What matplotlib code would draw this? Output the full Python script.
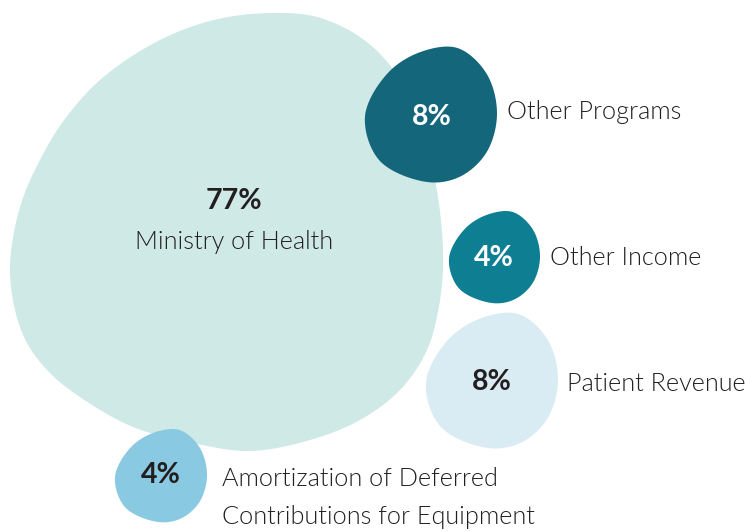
import numpy as np
import matplotlib
matplotlib.use("Agg")
import matplotlib.pyplot as plt
from matplotlib.patches import Polygon

# ---- data ----
categories = ["Ministry of Health", "Other Programs", "Other Income",
              "Patient Revenue", "Amortization of Deferred\nContributions for Equipment"]
shares = [77, 8, 4, 8, 4]

# ---- styling / layout ----
colors = ["#CEE9E6", "#14677A", "#0E7F93", "#D9ECF3", "#89C9E2"]
pct_colors = ["#231F20", "white", "white", "#231F20", "#231F20"]
# bounding boxes in pixel space (x0, y0, x1, y1)
boxes = [(10, 13, 443, 451), (365, 48, 497, 182), (449, 212, 540, 303),
         (426, 314, 558, 448), (115, 430, 207, 522)]
pct_pos = [(234, 201), (432, 117), (494, 258), (492, 382), (161, 475)]
label_pos = [(234, 242, "center"), (507, 112, "left"), (550, 258, "left"),
             (567, 384, "left"), (222, 498, "left")]

big_template = np.array([
    (273, 13), (317, 17), (360, 37), (392, 68), (418, 120), (435, 180),
    (443, 250), (440, 300), (427, 350), (400, 390), (360, 420), (310, 440),
    (250, 451), (193, 443), (133, 427), (80, 397), (50, 373), (27, 343),
    (15, 310), (10, 270), (14, 232), (24, 195), (40, 160), (62, 123),
    (100, 80), (160, 40), (218, 19)], float)
big_template[:, 0] = (big_template[:, 0] - 10) / 433
big_template[:, 1] = (big_template[:, 1] - 13) / 438

small_template = np.array([
    (0.70, 0.0), (0.92, 0.19), (1.0, 0.49), (0.92, 0.78), (0.72, 0.96),
    (0.47, 1.0), (0.11, 0.84), (0.0, 0.51), (0.17, 0.19), (0.42, 0.03)])


def centripetal_closed(pts, n=30, alpha=0.5):
    P = np.vstack([pts[-1], pts, pts[0], pts[1]])
    out = []
    for i in range(1, len(pts) + 1):
        p0, p1, p2, p3 = P[i - 1], P[i], P[i + 1], P[i + 2]
        t0 = 0.0
        t1 = t0 + np.linalg.norm(p1 - p0) ** alpha
        t2 = t1 + np.linalg.norm(p2 - p1) ** alpha
        t3 = t2 + np.linalg.norm(p3 - p2) ** alpha
        t = np.linspace(t1, t2, n, endpoint=False)[:, None]
        a1 = (t1 - t) / (t1 - t0) * p0 + (t - t0) / (t1 - t0) * p1
        a2 = (t2 - t) / (t2 - t1) * p1 + (t - t1) / (t2 - t1) * p2
        a3 = (t3 - t) / (t3 - t2) * p2 + (t - t2) / (t3 - t2) * p3
        b1 = (t2 - t) / (t2 - t0) * a1 + (t - t0) / (t2 - t0) * a2
        b2 = (t3 - t) / (t3 - t1) * a2 + (t - t1) / (t3 - t1) * a3
        c = (t2 - t) / (t2 - t1) * b1 + (t - t1) / (t2 - t1) * b2
        out.append(c)
    return np.vstack(out)


fig = plt.figure(figsize=(7.45, 5.31), dpi=100)
ax = fig.add_axes([0, 0, 1, 1])
ax.set_xlim(0, 745)
ax.set_ylim(531, 0)
ax.axis("off")

for i, (cat, val) in enumerate(zip(categories, shares)):
    x0, y0, x1, y1 = boxes[i]
    tmpl = big_template if i == 0 else small_template
    pts = np.column_stack([x0 + tmpl[:, 0] * (x1 - x0), y0 + tmpl[:, 1] * (y1 - y0)])
    curve = centripetal_closed(pts)
    ax.add_patch(Polygon(curve, closed=True, facecolor=colors[i], edgecolor="none", zorder=1 + i))
    px, py = pct_pos[i]
    ax.text(px, py, f"{val}%", ha="center", va="center", fontsize=20.5, fontweight="bold",
            family="Lato", color=pct_colors[i], zorder=10)
    lx, ly, ha = label_pos[i]
    ax.text(lx, ly, cat, ha=ha, va="center", fontsize=18.2, fontweight=300,
            family="Lato", color="#231F20", linespacing=1.72, zorder=10)

fig.savefig("out.png", dpi=100, facecolor="white")
